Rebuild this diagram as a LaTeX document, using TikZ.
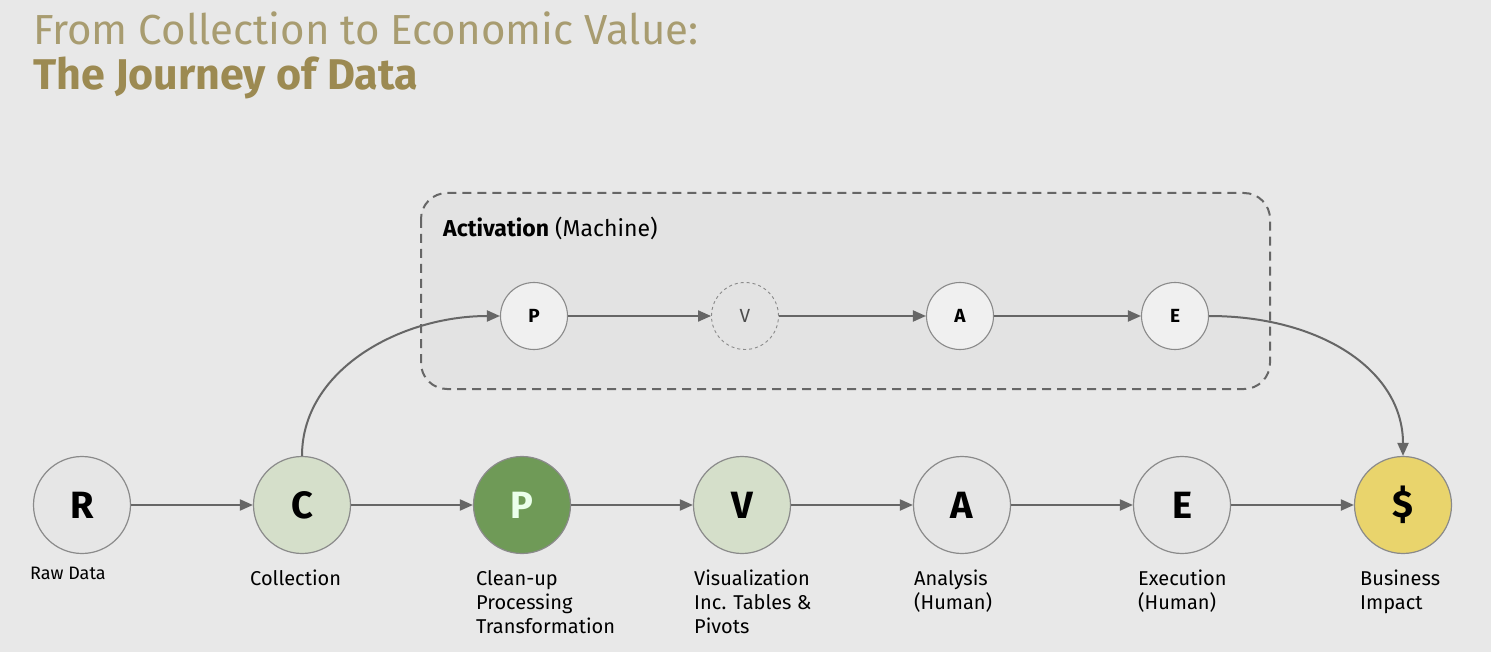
\documentclass[tikz,border=0pt]{standalone}
\usepackage{fontspec}
\setmainfont{Fira Sans}
\usetikzlibrary{positioning,arrows.meta}
\definecolor{bgcol}{HTML}{E8E8E8}
\definecolor{boxfill}{HTML}{E3E3E3}
\definecolor{ringcol}{HTML}{8A8A8A}
\definecolor{arrowcol}{HTML}{666666}
\definecolor{titlecol}{HTML}{A89C70}
\definecolor{titlebold}{HTML}{9C8A52}
\definecolor{greylight}{HTML}{E6E6E6}
\definecolor{greenlight}{HTML}{D5DFCA}
\definecolor{greendark}{HTML}{6F9A57}
\definecolor{gold}{HTML}{E9D46C}
\definecolor{topfill}{HTML}{F0F0F0}

\begin{document}
\begin{tikzpicture}[x=1pt,y=-1pt,
  big/.style={draw=ringcol,line width=1.2pt,shape=circle,minimum size=97pt,inner sep=0pt,
    font=\fontsize{38}{38}\selectfont\bfseries},
  small/.style={draw=ringcol,line width=1.1pt,shape=circle,minimum size=67pt,inner sep=0pt,
    fill=topfill,font=\fontsize{19}{19}\selectfont\bfseries},
  lbl/.style={anchor=north west,align=left,inner sep=0pt,font=\fontsize{20}{24}\selectfont},
  flow/.style={draw=arrowcol,line width=2pt,-{Triangle[length=13pt,width=11pt]}}]

\fill[bgcol] (0,0) rectangle (1491,652);
\useasboundingbox (0,0) rectangle (1491,652);

%title
\draw node (t1) at (33,45) [anchor=base west,inner sep=0pt,text=titlecol,
  font=\fontsize{42}{42}\selectfont]{From Collection to Economic Value:};
\draw node (t2) at (33,90) [anchor=base west,inner sep=0pt,text=titlebold,
  font=\fontsize{43}{43}\selectfont\bfseries]{The Journey of Data};

%machine box
\draw[draw=arrowcol,fill=boxfill,line width=2pt,dash pattern=on 9pt off 6pt,rounded corners=26pt]
  (421,193) rectangle (1270,389);
\draw node (act) at (443,237) [anchor=base west,inner sep=0pt,
  font=\fontsize{23}{23}\selectfont]{\textbf{Activation} (Machine)};

\draw node (mp) at (534,316) [small]{P};
\draw node (mv) at (745,316) [small,fill=boxfill,dashed,draw=ringcol,line width=0.9pt,
  font=\fontsize{19}{19}\selectfont,text=black!70]{V};
\draw node (ma) at (960,316) [small]{A};
\draw node (me) at (1175,316) [small]{E};

%main row
\draw node (r) at (82,505) [big,fill=greylight]{R};
\draw node (c) at (302,505) [big,fill=greenlight]{C};
\draw node (p) at (522,505) [big,fill=greendark,text=white!92!green]{P};
\draw node (v) at (742,505) [big,fill=greenlight]{V};
\draw node (a) at (962,505) [big,fill=greylight]{A};
\draw node (e) at (1182,505) [big,fill=greylight]{E};
\draw node (d) at (1403,505) [big,fill=gold]{\$};

\draw node (lr) at (30,567) [lbl,font=\fontsize{18}{22}\selectfont]{Raw Data};
\draw node (lc) at (250,570) [lbl]{Collection};
\draw node (lp) at (476,570) [lbl]{Clean-up\\Processing\\Transformation};
\draw node (lv) at (694,570) [lbl]{Visualization\\Inc. Tables \&\\Pivots};
\draw node (la) at (914,570) [lbl]{Analysis\\(Human)};
\draw node (le) at (1138,570) [lbl]{Execution\\(Human)};
\draw node (ld) at (1360,570) [lbl]{Business\\Impact};

\draw[flow] (r) -- (c);
\draw[flow] (c) -- (p);
\draw[flow] (p) -- (v);
\draw[flow] (v) -- (a);
\draw[flow] (a) -- (e);
\draw[flow] (e) -- (d);

\draw[flow] (mp) -- (mv);
\draw[flow] (mv) -- (ma);
\draw[flow] (ma) -- (me);

\draw[flow] (c.north) .. controls (302,370) and (400,316) .. (mp.west);
\draw[flow] (me.east) .. controls (1320,316) and (1403,370) .. (d.north);
\end{tikzpicture}
\end{document}
